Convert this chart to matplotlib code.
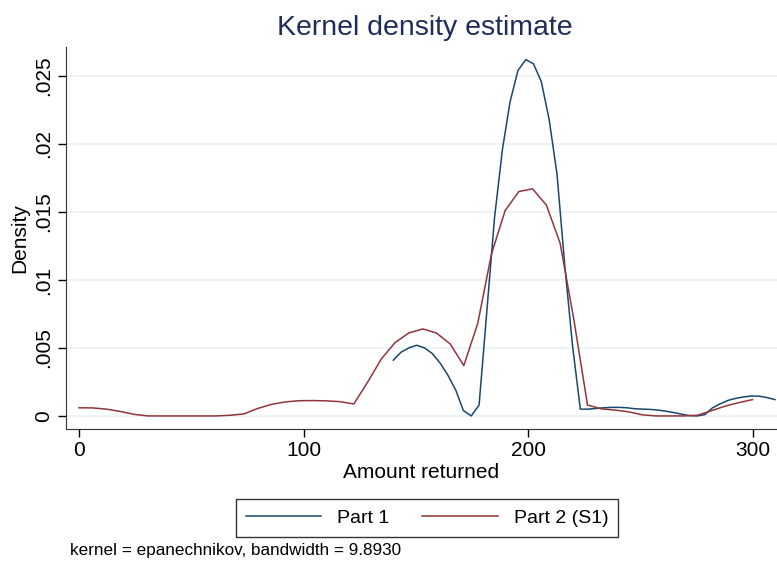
import matplotlib
matplotlib.use('Agg')
import matplotlib.pyplot as plt

plt.rcParams['font.family'] = ['Liberation Sans', 'DejaVu Sans']

# Part 1 density (evaluated on 50 points from 140 to 310)
x1 = [140.0, 143.5, 146.9, 150.4, 153.9, 157.3, 160.8, 164.3, 167.8, 171.2,
      174.7, 178.2, 181.6, 185.1, 188.6, 192.0, 195.5, 199.0, 202.4, 205.9,
      209.4, 212.9, 216.3, 219.8, 223.3, 226.7, 230.2, 233.7, 237.1, 240.6,
      244.1, 247.6, 251.0, 254.5, 258.0, 261.4, 264.9, 268.4, 271.8, 275.3,
      278.8, 282.2, 285.7, 289.2, 292.7, 296.1, 299.6, 303.1, 306.5, 310.0]
d1 = [0.0041, 0.0047, 0.0050, 0.0052, 0.0050, 0.0046, 0.0039, 0.0030, 0.0019, 0.0004,
      0.0000, 0.0008, 0.0076, 0.0146, 0.0196, 0.0231, 0.0254, 0.0262, 0.0259, 0.0246,
      0.0218, 0.0178, 0.0112, 0.0052, 0.0005, 0.0005, 0.00055, 0.0006, 0.00063, 0.00063,
      0.0006, 0.00053, 0.0005, 0.00048, 0.00043, 0.00035, 0.00025, 0.00013, 0.00003, 0.0,
      0.0001, 0.0006, 0.0009, 0.00115, 0.0013, 0.0014, 0.00147, 0.00145, 0.00135, 0.0012]

# Part 2 (S1) density (50 points from 0 to 300)
x2 = [0.0, 6.1, 12.2, 18.4, 24.5, 30.6, 36.7, 42.9, 49.0, 55.1,
      61.2, 67.3, 73.5, 79.6, 85.7, 91.8, 98.0, 104.1, 110.2, 116.3,
      122.4, 128.6, 134.7, 140.8, 146.9, 153.1, 159.2, 165.3, 171.4, 177.6,
      183.7, 189.8, 195.9, 202.0, 208.2, 214.3, 220.4, 226.5, 232.7, 238.8,
      244.9, 251.0, 257.1, 263.3, 269.4, 275.5, 281.6, 287.8, 293.9, 300.0]
d2 = [0.0006, 0.00059, 0.0005, 0.00033, 0.00012, 0.0, 0.0, 0.0, 0.0, 0.0,
      0.0, 0.00005, 0.00015, 0.00055, 0.00085, 0.00103, 0.00112, 0.00113, 0.00111, 0.00105,
      0.00088, 0.0025, 0.0042, 0.0054, 0.0061, 0.0064, 0.0061, 0.0053, 0.0037, 0.0068,
      0.0119, 0.0151, 0.0165, 0.0167, 0.0155, 0.0127, 0.0071, 0.0008, 0.00052, 0.00043,
      0.0003, 0.00008, 0.0, 0.0, 0.0, 0.00005, 0.00038, 0.00072, 0.00098, 0.0012]

yticks = [0, 0.005, 0.01, 0.015, 0.02, 0.025]
ytick_labels = ['0', '.005', '.01', '.015', '.02', '.025']
xticks = [0, 100, 200, 300]

fig = plt.figure(figsize=(7.77, 5.63), dpi=100)
ax = fig.add_axes([66 / 777, 1 - 429 / 563, 1 - 66 / 777, (429 - 47) / 563])

ax.plot(x1, d1, color='#1a476f', linewidth=1.1, label='Part 1')
ax.plot(x2, d2, color='#90353b', linewidth=1.1, label='Part 2 (S1)')

ax.set_xlim(-5.8, 310.9)
ax.set_ylim(-0.00096, 0.02713)
ax.set_xticks(xticks)
ax.set_yticks(yticks)
ax.set_yticklabels(ytick_labels, rotation=90, va='center')
ax.tick_params(direction='out', length=6, width=1, labelsize=15, pad=3)
ax.grid(axis='y', color='#eaf2f3', linewidth=1.2)
ax.set_axisbelow(True)
for s in ['top', 'right']:
    ax.spines[s].set_visible(False)
ax.spines['left'].set_color('#333333')
ax.spines['bottom'].set_color('#333333')

ax.set_xlabel('Amount returned', fontsize=15, labelpad=2)
ax.set_ylabel('Density', fontsize=15, labelpad=4)
fig.text(0.547, 1 - 28 / 563, 'Kernel density estimate', fontsize=20.5,
         color='#1e2d5c', ha='center', va='center')

leg = fig.legend(loc='center', bbox_to_anchor=(427 / 777, 1 - 518 / 563), ncol=2,
                 fontsize=14, frameon=True, fancybox=False, handlelength=3.9,
                 columnspacing=1.7, borderpad=0.5, edgecolor='black')
leg.get_frame().set_linewidth(1)

fig.text(70 / 777, 1 - 551 / 563, 'kernel = epanechnikov, bandwidth = 9.8930',
         fontsize=12.3, va='center')

plt.savefig('out.png', dpi=100)
